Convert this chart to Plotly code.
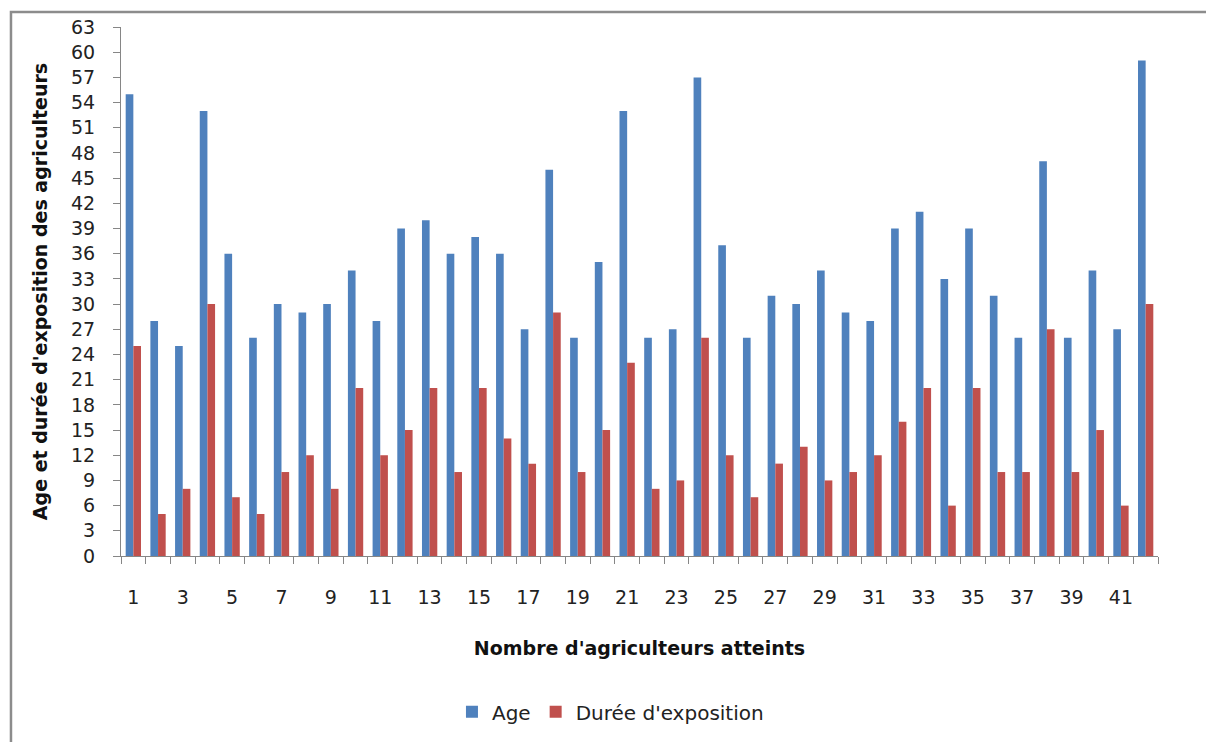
import plotly.graph_objects as go

# Farmer index (1..42)
farmers = list(range(1, 43))

# Age of each farmer (years)
age = [55, 28, 25, 53, 36, 26, 30, 29, 30, 34, 28, 39, 40, 36, 38, 36, 27, 46, 26, 35, 53,
       26, 27, 57, 37, 26, 31, 30, 34, 29, 28, 39, 41, 33, 39, 31, 26, 47, 26, 34, 27, 59]

# Exposure duration of each farmer (years)
duree = [25, 5, 8, 30, 7, 5, 10, 12, 8, 20, 12, 15, 20, 10, 20, 14, 11, 29, 10, 15, 23,
         8, 9, 26, 12, 7, 11, 13, 9, 10, 12, 16, 20, 6, 20, 10, 10, 27, 10, 15, 6, 30]

odd_labels = [n for n in farmers if n % 2 == 1]

BLUE = "#4F81BD"
RED = "#C0504D"
AXIS = "#868686"
FONT = "DejaVu Sans"

fig = go.Figure()
fig.add_trace(go.Bar(x=farmers, y=age, name="Age", marker=dict(color=BLUE, line=dict(width=0))))
fig.add_trace(go.Bar(x=farmers, y=duree, name="Durée d'exposition",
                     marker=dict(color=RED, line=dict(width=0))))

fig.update_layout(
    width=1206, height=742,
    margin=dict(l=121, r=48, t=27, b=185),
    paper_bgcolor="white", plot_bgcolor="white",
    barmode="group", bargap=0.38, bargroupgap=0,
    font=dict(family=FONT, size=20, color="#222222"),
    showlegend=True,
    legend=dict(orientation="h", x=0.472, xanchor="center", y=-0.292, yanchor="middle",
                font=dict(size=20, color="#222222"), itemwidth=30, traceorder="normal"),
    xaxis=dict(
        range=[0.5, 42.5], tickmode="array", tickvals=odd_labels,
        ticktext=[str(v) for v in odd_labels], ticks="", ticklabelstandoff=24,
        tickfont=dict(size=19),
        showline=True, linecolor=AXIS, linewidth=1, showgrid=False, zeroline=False,
        minor=dict(tickmode="linear", tick0=0.5, dtick=1, ticks="outside", ticklen=7,
                   tickcolor=AXIS, tickwidth=1, showgrid=False),
        title=dict(text="<b>Nombre d'agriculteurs atteints</b>", standoff=34,
                   font=dict(size=19, color="#111111")),
        fixedrange=True,
    ),
    yaxis=dict(
        range=[0, 63], tickmode="linear", tick0=0, dtick=3, ticks="outside", ticklen=7,
        tickcolor=AXIS, showline=True, linecolor=AXIS, linewidth=1, showgrid=False,
        zeroline=False, ticklabelstandoff=14, tickfont=dict(size=19),
        title=dict(text="<b>Age et durée d'exposition des agriculteurs</b>", standoff=18,
                   font=dict(size=19, color="#111111")),
        fixedrange=True,
    ),
    shapes=[dict(type="rect", xref="paper", yref="paper",
                 x0=-0.1061, x1=1.05, y0=-0.357, y1=1.0283,
                 line=dict(color="#8C8C8C", width=2.5), fillcolor="rgba(0,0,0,0)", layer="below")],
)

fig.write_html("out.html")
